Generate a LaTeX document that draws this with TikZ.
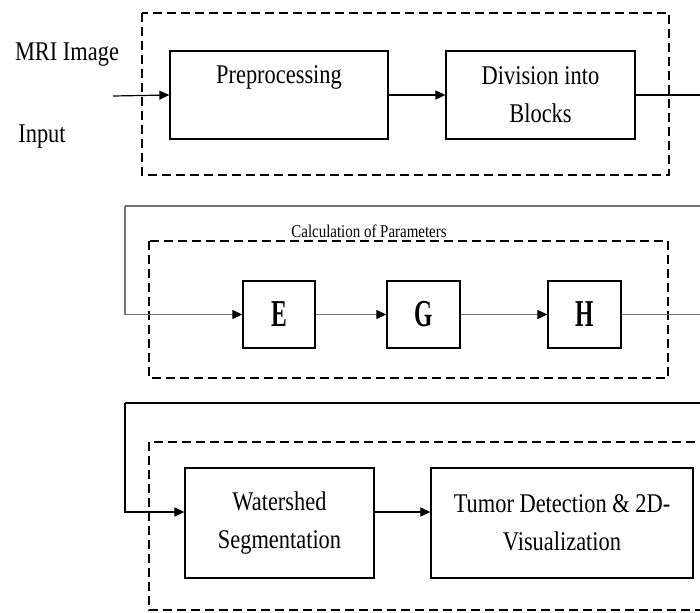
\documentclass[tikz,border=0pt]{standalone}
\usepackage{fontspec}
\usetikzlibrary{arrows.meta}
\newfontfamily\mainf[FakeStretch=0.83]{Liberation Serif}
\newfontfamily\letterf[FakeStretch=0.62]{Liberation Serif}
\begin{document}
\begin{tikzpicture}[x=1pt,y=-1pt,
  txt/.style={font=\mainf\fontsize{27}{38}\selectfont, align=center, inner sep=0pt},
  blk/.style={draw, line width=1.3pt, inner sep=0pt, align=center,
    font=\mainf\fontsize{27}{38}\selectfont},
  lblk/.style={draw, line width=1.3pt, inner sep=0pt,
    font=\letterf\bfseries\fontsize{38}{40}\selectfont},
  grp/.style={draw, line width=1.2pt, dash pattern=on 9pt off 5pt},
  arr/.style={line width=1.2pt, -{Triangle[length=10pt,width=9pt]}},
  garr/.style={line width=1.2pt, draw=black!55, -{Triangle[length=10pt,width=9pt,fill=black,color=black]}},
  gline/.style={line width=1.2pt, draw=black!55}]
\useasboundingbox (0,0) rectangle (700,612);
\clip (0,0) rectangle (700,612);
\fill[white] (0,0) rectangle (700,612);

% groups
\draw[grp] (142,13) rectangle (669,175);
\draw[grp] (149,241) rectangle (668,378);
\draw[grp] (149,442) rectangle (730,610);

% row 1
\node[txt] (mri) at (67,55) {MRI Image};
\node[txt] (inp) at (42,137) {Input};
\coordinate (in) at (113,96);
\node[blk, minimum width=218pt, minimum height=88pt] (pre) at (279,95) {Preprocessing\\[-8pt]\strut};
\node[blk, minimum width=189pt, minimum height=88pt] (div) at (540.5,95) {Division into\\Blocks};
\coordinate (r1) at (700,95);
\draw[arr] (in) -- (pre.west);
\draw[arr] (pre.east) -- (div.west);
\draw[line width=1.2pt] (div.east) -- (r1);

% row 2
\node[font=\mainf\fontsize{18}{20}\selectfont, fill=white, inner sep=2pt, anchor=south] (calc) at (369,240) {Calculation of Parameters};
\node[lblk, minimum width=72pt, minimum height=67pt] (E) at (279,314.5) {E};
\node[lblk, minimum width=73pt, minimum height=67pt] (G) at (423.5,314.5) {G};
\node[lblk, minimum width=73pt, minimum height=67pt] (H) at (584.5,314.5) {H};
\coordinate (r2) at (700,206);
\coordinate (c2) at (125,206);
\coordinate (r2b) at (700,314.5);
\draw[gline] (r2) -- (c2);
\draw[garr] (c2) |- (E.west);
\draw[garr] (E.east) -- (G.west);
\draw[garr] (G.east) -- (H.west);
\draw[gline] (H.east) -- (r2b);

% row 3
\node[blk, minimum width=189pt, minimum height=110pt] (W) at (279.5,523) {Watershed\\Segmentation};
\node[blk, minimum width=262pt, minimum height=110pt] (T) at (562,523) {Tumor Detection \& 2D-\\Visualization};
\coordinate (r3) at (700,403);
\coordinate (c3) at (125,403);
\draw[line width=1.2pt] (r3) -- (c3);
\draw[arr] (c3) |- ([yshift=11pt]W.west);
\draw[arr] ([yshift=11pt]W.east) -- ([yshift=11pt]T.west);
\end{tikzpicture}
\end{document}
